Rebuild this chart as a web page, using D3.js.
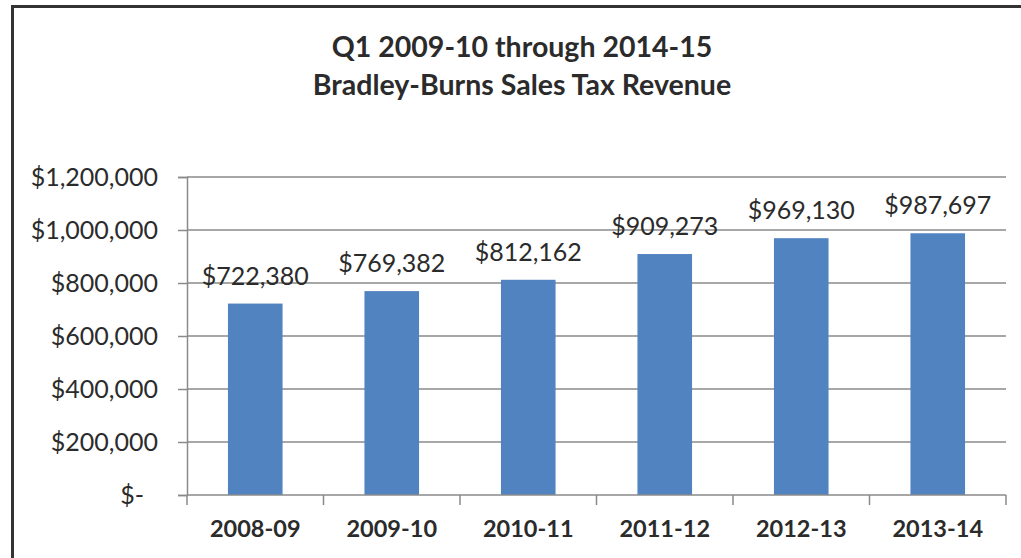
<!DOCTYPE html>
<html>
<head>
<meta charset="utf-8">
<script src="https://cdn.jsdelivr.net/npm/d3@7"></script>
<style>
  body { margin: 0; background: #fff; }
  svg { display: block; }
</style>
</head>
<body>
<svg id="chart"></svg>
<script>
const years = ['2008-09', '2009-10', '2010-11', '2011-12', '2012-13', '2013-14'];
const revenue = [722380, 769382, 812162, 909273, 969130, 987697];
const yTicks = [0, 200000, 400000, 600000, 800000, 1000000, 1200000];
const titleLines = ['Q1 2009-10 through 2014-15', 'Bradley-Burns Sales Tax Revenue'];

const width = 1021, height = 558;
const marginLeft = 187, marginRight = 15, marginTop = 177, marginBottom = 63;
const font = 'Lato, "Open Sans", sans-serif';
const textColor = '#2b2b2b';

const svg = d3.select('#chart')
  .attr('width', width)
  .attr('height', height)
  .attr('viewBox', [0, 0, width, height]);

// outer frame (right / bottom edges are cut off in the original)
svg.append('rect')
  .attr('x', 12.5).attr('y', 6.5)
  .attr('width', width + 20).attr('height', height + 20)
  .attr('fill', 'none').attr('stroke', '#333').attr('stroke-width', 3);

// title
svg.append('g').selectAll('text')
  .data(titleLines)
  .join('text')
  .attr('x', 522)
  .attr('y', (d, i) => 57 + i * 38)
  .attr('text-anchor', 'middle')
  .style('font-family', font)
  .style('font-weight', 'bold')
  .style('font-size', '28.5px')
  .style('fill', textColor)
  .text((d) => d);

const x = d3.scaleBand()
  .domain(years)
  .range([marginLeft, width - marginRight])
  .paddingInner(0.6)
  .paddingOuter(0.3);

const y = d3.scaleLinear()
  .domain([0, 1200000])
  .range([height - marginBottom, marginTop]);

// gridlines
svg.append('g').selectAll('line')
  .data(yTicks.slice(1))
  .join('line')
  .attr('x1', marginLeft).attr('x2', width - marginRight)
  .attr('y1', (d) => y(d)).attr('y2', (d) => y(d))
  .attr('stroke', '#8a8a8a').attr('stroke-width', 1.5);

// y axis
const yAxis = svg.append('g')
  .attr('transform', `translate(${marginLeft},0)`)
  .call(d3.axisLeft(y).tickValues(yTicks).tickSize(9).tickPadding(20)
    .tickFormat((d) => d === 0 ? '$-' : d3.format('$,')(d)));
yAxis.select('.domain').attr('stroke', '#8a8a8a').attr('stroke-width', 1.5);
yAxis.selectAll('.tick line').attr('stroke', '#8a8a8a').attr('stroke-width', 1.5);
yAxis.selectAll('.tick text')
  .style('font-family', font)
  .style('font-size', '25px')
  .style('fill', textColor)
  .attr('dx', (d) => d === 0 ? -14 : 0);

// bars
svg.append('g').selectAll('rect')
  .data(revenue)
  .join('rect')
  .attr('x', (d, i) => x(years[i]))
  .attr('y', (d) => y(d))
  .attr('width', x.bandwidth())
  .attr('height', (d) => y(0) - y(d))
  .attr('fill', '#5183c0');

// value labels
svg.append('g').selectAll('text')
  .data(revenue)
  .join('text')
  .attr('x', (d, i) => x(years[i]) + x.bandwidth() / 2)
  .attr('y', (d) => y(d) - 19)
  .attr('text-anchor', 'middle')
  .style('font-family', font)
  .style('font-size', '25px')
  .style('fill', textColor)
  .text((d) => d3.format('$,')(d));

// x axis
const step = x.step();
const boundaries = d3.range(years.length + 1).map((i) => marginLeft + i * step);
const xAxis = svg.append('g');
xAxis.append('line')
  .attr('x1', marginLeft).attr('x2', width - marginRight)
  .attr('y1', y(0)).attr('y2', y(0))
  .attr('stroke', '#8a8a8a').attr('stroke-width', 1.5);
xAxis.selectAll('line.tick')
  .data(boundaries)
  .join('line')
  .attr('class', 'tick')
  .attr('x1', (d) => d).attr('x2', (d) => d)
  .attr('y1', y(0)).attr('y2', y(0) + 10)
  .attr('stroke', '#8a8a8a').attr('stroke-width', 1.5);
xAxis.selectAll('text')
  .data(years)
  .join('text')
  .attr('x', (d) => x(d) + x.bandwidth() / 2)
  .attr('y', 537)
  .attr('text-anchor', 'middle')
  .style('font-family', font)
  .style('font-weight', 'bold')
  .style('font-size', '23.5px')
  .style('fill', textColor)
  .text((d) => d);
</script>
</body>
</html>
